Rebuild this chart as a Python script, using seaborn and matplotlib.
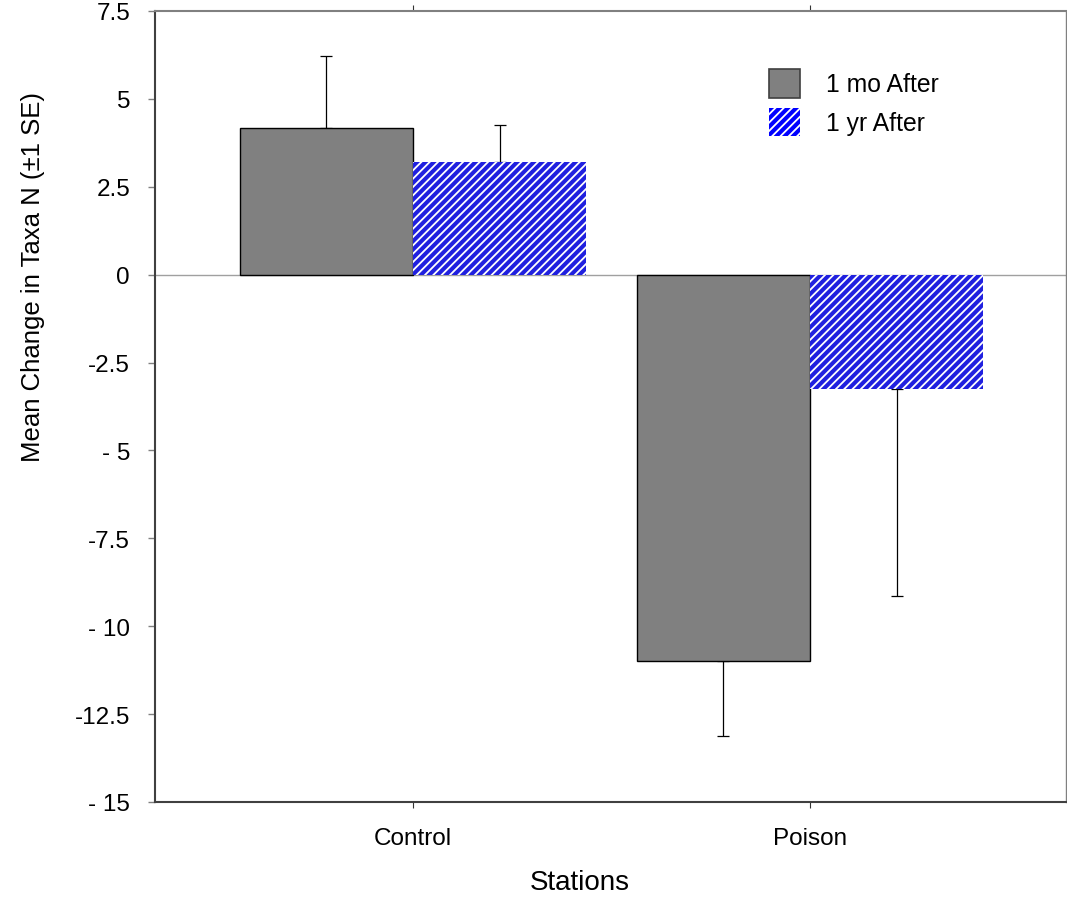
import numpy as np
import pandas as pd
import matplotlib
matplotlib.use("Agg")
import matplotlib.pyplot as plt
import seaborn as sns
from matplotlib.patches import Patch

# data
stations = ["Control", "Poison"]
groups = ["1 mo After", "1 yr After"]
mean_1mo = [4.17, -10.99]
mean_1yr = [3.20, -3.25]
se_1mo = [2.06, 2.13]
se_1yr = [1.05, 5.89]
ytick_vals = [-15, -12.5, -10, -7.5, -5, -2.5, 0, 2.5, 5, 7.5]
ytick_labels = ["- 15", "-12.5", "- 10", "-7.5", "- 5", "-2.5", "0", "2.5", "5", "7.5"]

sns.set_style("white")
plt.rcParams["font.family"] = ["Liberation Sans", "DejaVu Sans"]
plt.rcParams["hatch.linewidth"] = 1.3
plt.rcParams["text.color"] = "black"
plt.rcParams["axes.labelcolor"] = "black"
plt.rcParams["xtick.labelcolor"] = "black"
plt.rcParams["ytick.labelcolor"] = "black"

df = pd.DataFrame({
    "Stations": stations * 2,
    "group": [groups[0]] * 2 + [groups[1]] * 2,
    "mean": mean_1mo + mean_1yr,
    "se": se_1mo + se_1yr,
})

fig = plt.figure(figsize=(10.67, 9.03), dpi=100)
ax = fig.add_axes([155 / 1067, 1 - 803 / 903, (1066 - 155) / 1067, (803 - 12) / 903])

sns.barplot(data=df, x="Stations", y="mean", hue="group", order=stations,
            hue_order=groups, palette=["#808080", "#0000ff"], width=0.872,
            errorbar=None, ax=ax, legend=False, zorder=2)

# grey bars with black edge, blue bars with white hatch
n = len(stations)
for i, p in enumerate(ax.patches[:2 * n]):
    if i < n:
        p.set_edgecolor("black")
        p.set_linewidth(1.0)
    else:
        p.set_edgecolor("white")
        p.set_hatch("////")
        p.set_linewidth(0)

# one-sided error bars (away from zero)
for i, p in enumerate(ax.patches[:2 * n]):
    g = 0 if i < n else 1
    s = i % n
    m = (mean_1mo if g == 0 else mean_1yr)[s]
    e = (se_1mo if g == 0 else se_1yr)[s]
    xc = p.get_x() + p.get_width() / 2
    yerr = [[0], [e]] if m >= 0 else [[e], [0]]
    ax.errorbar([xc], [m], yerr=yerr, fmt="none", ecolor="black",
                elinewidth=0.9, capsize=4.5, capthick=0.9, zorder=1)

ax.axhline(0, color="#a0a0a0", lw=1.0, zorder=1)

ax.set_xlim(-0.65, 1.645)
ax.set_ylim(-15, 7.5)
ax.set_yticks(ytick_vals)
ax.set_yticklabels(ytick_labels)

ax.tick_params(axis="y", direction="out", length=5, width=1, color="#808080",
               pad=13, labelsize=17.5, left=True)
ax.tick_params(axis="x", direction="out", length=4, width=0.8, color="#333333",
               pad=14, labelsize=17.5, bottom=True, top=True)

ax.spines["left"].set_color("#404040")
ax.spines["bottom"].set_color("#404040")
ax.spines["left"].set_linewidth(1.5)
ax.spines["bottom"].set_linewidth(1.5)
ax.spines["top"].set_color("#808080")
ax.spines["right"].set_color("#808080")
ax.spines["top"].set_linewidth(1.5)
ax.spines["right"].set_linewidth(1.0)

ax.set_xlabel("Stations", fontsize=20)
ax.set_ylabel("Mean Change in Taxa N (\u00b11 SE)", fontsize=18.5)
ax.xaxis.set_label_coords(0.4665, -0.085)
ax.yaxis.set_label_coords(-0.121, 0.665)

# legend
handles = [
    Patch(facecolor="#808080", edgecolor="#404040", linewidth=1.2),
    Patch(facecolor="#0000ff", edgecolor="white", hatch="////", linewidth=0),
]
ax.legend(handles, groups, loc="upper left", bbox_to_anchor=(0.6495, 0.955),
          frameon=False, fontsize=17.8, handlelength=1.25, handleheight=1.42,
          handletextpad=1.05, labelspacing=0.4)

fig.savefig("out.png", dpi=100)
